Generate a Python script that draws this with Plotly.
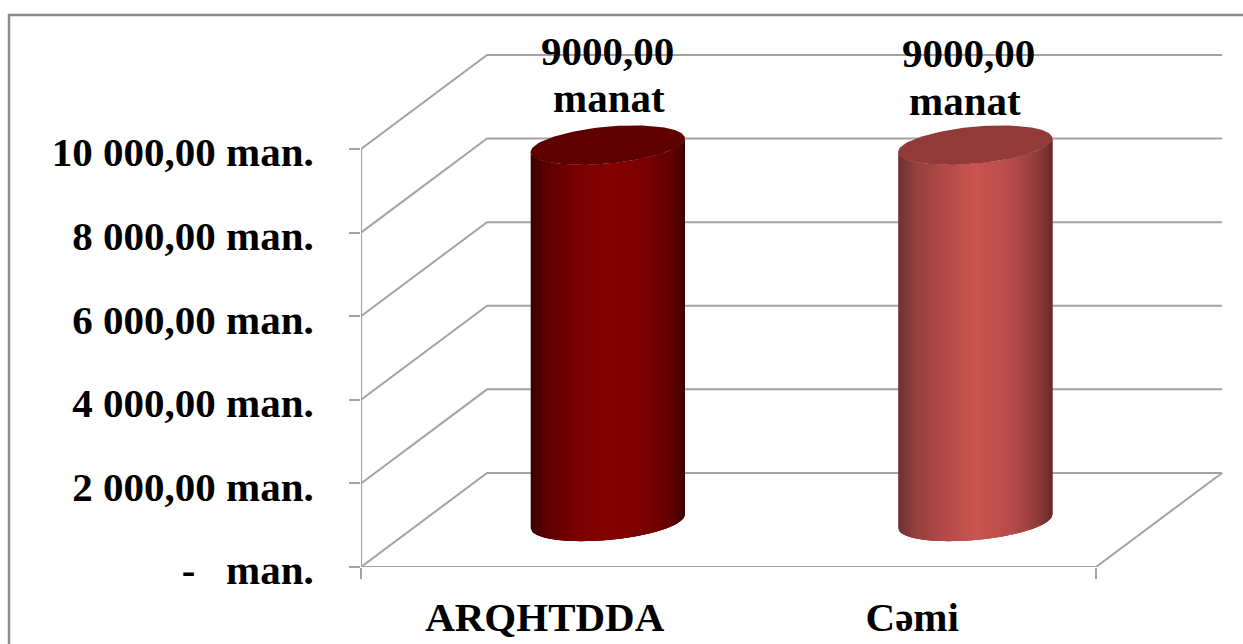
import math
import plotly.graph_objects as go

categories = ["ARQHTDDA", "Cəmi"]
values = [9000, 9000]
label_numbers = ["9000,00", "9000,00"]
label_unit = "manat"
tick_values = [0, 2000, 4000, 6000, 8000, 10000]
tick_labels = ["-   man.", "2 000,00 man.", "4 000,00 man.", "6 000,00 man.", "8 000,00 man.", "10 000,00 man."]

# style
GRID = "#a3a3a3"
FONT = "Liberation Serif, Times New Roman, serif"
FS = 41
GRADS = [
    [(0, (58, 0, 0)), (.10, (92, 0, 0)), (.3, (122, 0, 0)), (.5, (134, 0, 0)), (.75, (122, 0, 0)), (.92, (96, 0, 0)), (1, (64, 0, 0))],
    [(0, (112, 48, 48)), (.12, (150, 64, 62)), (.3, (178, 74, 72)), (.5, (204, 84, 81)), (.75, (180, 75, 73)), (.92, (140, 58, 56)), (1, (100, 42, 42))],
]
TOPS = ["#5f0000", "#923a3a"]

# oblique projection of the 3-D box
DX, DV = 0.343, 2250
RX, RD = 0.197, 0.21   # cylinder radius: along category axis, along depth
N_CAT = len(categories)
XMAX = 2.3456
L, T, R, B = 361, 20, 20, 77
W, H = 1243, 644
PW, PH = W - L - R, H - T - B
V_PX = 41.8 / 1000      # px per value unit
YMAX = PH / V_PX


def proj(x, v, d):
    return x + d * DX, v + d * DV


def lerp_color(stops, f):
    for (f0, c0), (f1, c1) in zip(stops, stops[1:]):
        if f <= f1:
            k = (f - f0) / (f1 - f0)
            return "rgb(%d,%d,%d)" % tuple(round(a + (b - a) * k) for a, b in zip(c0, c1))
    return "rgb(%d,%d,%d)" % stops[-1][1]


fig = go.Figure()


def line(xs, ys, width=2):
    fig.add_trace(go.Scatter(x=xs, y=ys, mode="lines", line=dict(color=GRID, width=width),
                             hoverinfo="skip", showlegend=False, cliponaxis=False))


for v in tick_values:
    p0 = proj(0, v, 0)
    p1 = proj(0, v, 1)
    p2 = proj(N_CAT, v, 1)
    line([p0[0], p1[0], p2[0]], [p0[1], p1[1], p2[1]])
p1 = proj(N_CAT, 0, 1)
p0 = proj(N_CAT, 0, 0)
line([p1[0], p0[0]], [p1[1], p0[1]])
line([0, 0], [0, max(tick_values)], 2.2)
line([0, N_CAT], [0, 0], 2.2)


def ell(cx, v, t):
    x, _ = proj(cx + RX * math.cos(t) + RD * DX * math.sin(t), 0, 0.5)
    _, y = proj(0, v + RD * DV * math.sin(t), 0.485)
    return x, y


t0 = math.atan2(RD * DX, RX)
STRIPS = 110
for i, (val, stops, top) in enumerate(zip(values, GRADS, TOPS)):
    cx = i + 0.5
    xl = ell(cx, 0, t0 + math.pi)[0]
    xr = ell(cx, 0, t0)[0]
    ext = (xr - xl) / 2
    xc = (xl + xr) / 2

    def t_at(x):
        return t0 + math.pi + math.acos(max(-1, min(1, -(x - xc) / ext)))

    # later strips overlap earlier ones so no seams show
    for s in range(STRIPS):
        xa = xl + (xr - xl) * s / STRIPS
        xb = xl + (xr - xl) * min(s + 3, STRIPS) / STRIPS
        ts = [t_at(xa + (xb - xa) * k / 3) for k in range(4)]
        low = [ell(cx, 0, t) for t in ts]
        upp = [ell(cx, val, t) for t in reversed(ts)]
        poly = low + upp + low[:1]
        col = lerp_color(stops, (s + 0.5) / STRIPS)
        fig.add_trace(go.Scatter(
            x=[p[0] for p in poly], y=[p[1] for p in poly],
            mode="lines", fill="toself", fillcolor=col, line=dict(color=col, width=0),
            hoverinfo="skip", showlegend=False))
    pts = [ell(cx, val, 2 * math.pi * k / 120) for k in range(121)]
    fig.add_trace(go.Scatter(x=[p[0] for p in pts], y=[p[1] for p in pts], mode="lines", fill="toself",
                             fillcolor=top, line=dict(color=top, width=0),
                             hoverinfo="skip", showlegend=False))

label_pos = [((0, 51), (1, 98)), ((-7, 53), (-10, 101))]
annotations = []
for i, (num, (pa, pb)) in enumerate(zip(label_numbers, label_pos)):
    cx = proj(i + 0.5, 0, 0.5)[0]
    for txt, (sh, ypx) in ((num, pa), (label_unit, pb)):
        annotations.append(dict(x=cx, xref="x", y=(H - B - ypx) / V_PX, yref="y", text="<b>%s</b>" % txt,
                                showarrow=False, xshift=sh, xanchor="center", yanchor="middle",
                                font=dict(family=FONT, size=FS, color="#000000")))

fig.update_layout(
    width=W, height=H, margin=dict(l=L, r=R, t=T, b=B, pad=0, autoexpand=False),
    paper_bgcolor="white", plot_bgcolor="white", showlegend=False,
    annotations=annotations,
    xaxis=dict(range=[0, XMAX], showgrid=False, zeroline=False, showline=False, automargin=False,
               tickmode="array", tickvals=[i + 0.5 for i in range(N_CAT)], ticktext=categories,
               ticks="", ticklabelstandoff=22,
               tickfont=dict(family=FONT, size=FS, color="#000000", weight="bold"),
               minor=dict(tickmode="array", tickvals=[0, N_CAT], ticks="outside", ticklen=11, tickwidth=2,
                          tickcolor=GRID, showgrid=False)),
    yaxis=dict(range=[0, YMAX], showgrid=False, zeroline=False, showline=False, automargin=False,
               tickmode="array", tickvals=tick_values, ticktext=tick_labels,
               ticks="outside", ticklen=11, tickwidth=2, tickcolor=GRID, ticklabelstandoff=27,
               ticklabelshift=3,
               tickfont=dict(family=FONT, size=FS, color="#000000", weight="bold")),
    shapes=[dict(type="path", xref="paper", yref="paper",
                 path="M %f %f L %f %f L %f %f" % (
                     (9 - L) / PW, (H - 646 - B) / PH,
                     (9 - L) / PW, (H - 15 - B) / PH,
                     (1245 - L) / PW, (H - 15 - B) / PH),
                 line=dict(color="#8c8c8c", width=2.5), layer="below")],
)

fig.write_html("out.html", config={"displayModeBar": False},
               post_script="document.body.style.margin='0';document.body.style.overflow='hidden';")
